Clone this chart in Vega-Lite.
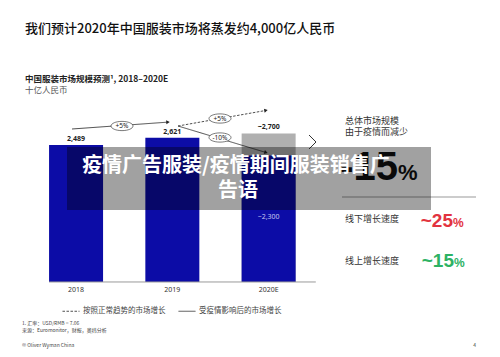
{
  "$schema": "https://vega.github.io/schema/vega-lite/v6.json",
  "width": 500,
  "height": 357,
  "autosize": "none",
  "padding": 0,
  "background": "white",
  "config": {
    "view": {"stroke": null},
    "axis": {"disable": true},
    "text": {"font": "Noto Sans CJK SC"}
  },
  "datasets": {
    "bars": [
      {"year": 2018, "yearLabel": "2018", "type": "实际", "value": 2489, "label": "2,489"},
      {"year": 2019, "yearLabel": "2019", "type": "实际", "value": 2621, "label": "2,621"},
      {"year": 2020, "yearLabel": "2020E", "type": "正常趋势", "value": 2700, "label": "~2,700"},
      {"year": 2020, "yearLabel": "2020E", "type": "实际", "value": 2300, "label": "~2,300"}
    ],
    "arrows": [
      {"seg": "a", "scenario": "受疫情影响后的市场增长", "x": 72, "y": 129},
      {"seg": "a", "scenario": "受疫情影响后的市场增长", "x": 167, "y": 122.2},
      {"seg": "b", "scenario": "按照正常趋势的市场增长", "x": 178, "y": 126},
      {"seg": "b", "scenario": "按照正常趋势的市场增长", "x": 265, "y": 110.6},
      {"seg": "c", "scenario": "受疫情影响后的市场增长", "x": 178, "y": 126},
      {"seg": "c", "scenario": "受疫情影响后的市场增长", "x": 265, "y": 152.2}
    ],
    "ellipses": [
      {"x": 122, "y": 126, "t": "+5%"},
      {"x": 220, "y": 118.5, "t": "+5%"},
      {"x": 220, "y": 137.5, "t": "-10%"}
    ],
    "panelLabels": [
      {"x": 345, "y": 121, "t": "总体市场规模"},
      {"x": 345, "y": 132, "t": "由于疫情而减少"},
      {"x": 345, "y": 219, "t": "线下增长速度"},
      {"x": 345, "y": 261, "t": "线上增长速度"}
    ],
    "kpi": [
      {"kind": "线下", "x": 453, "y": 227, "num": "~25"},
      {"kind": "线上", "x": 454, "y": 267, "num": "~15"}
    ],
    "footnotes": [
      {"x": 22, "y": 323, "t": "1. 汇率：USD/RMB = 7.06"},
      {"x": 22, "y": 330, "t": "来源：Euromonitor，财报，奥纬分析"},
      {"x": 22, "y": 345, "t": "© Oliver Wyman China"}
    ],
    "banner": [
      {"x": 236, "y": 166, "t": "疫情广告服装/疫情期间服装销售广"},
      {"x": 238, "y": 191, "t": "告语"}
    ]
  },
  "resolve": {"scale": {"x": "independent", "y": "independent", "color": "independent"}},
  "layer": [
    {
      "layer": [
        {
          "data": {"name": "bars"},
          "mark": {"type": "bar", "size": 54},
          "encoding": {
            "x": {"field": "year", "type": "quantitative", "scale": {"domain": [2017.262, 2022.351], "nice": false, "zero": false}},
            "y": {"field": "value", "type": "quantitative", "stack": null, "scale": {"domain": [-1364, 5127], "nice": false, "zero": false}},
            "y2": {"datum": 0},
            "color": {"field": "type", "type": "nominal", "scale": {"domain": ["正常趋势", "实际"], "range": ["#b0b0b0", "#0c0ca6"]}, "legend": null}
          }
        },
        {
          "data": {"name": "bars"},
          "transform": [{"filter": "datum.type == '实际'"}],
          "mark": {"type": "text", "fontSize": 7, "color": "#333", "baseline": "middle", "font": "Noto Sans"},
          "encoding": {
            "x": {"field": "year", "type": "quantitative"},
            "y": {"datum": -150},
            "text": {"field": "yearLabel"}
          }
        },
        {
          "data": {"name": "bars"},
          "transform": [{"filter": "datum.value > 2400"}],
          "mark": {"type": "text", "fontSize": 7, "fontWeight": "bold", "color": "#222", "baseline": "middle", "dy": -6, "font": "Noto Sans"},
          "encoding": {
            "x": {"field": "year", "type": "quantitative"},
            "y": {"field": "value", "type": "quantitative"},
            "text": {"field": "label"}
          }
        },
        {
          "data": {"name": "bars"},
          "transform": [{"filter": "datum.value < 2400"}],
          "mark": {"type": "text", "fontSize": 7, "color": "#c8c8f0", "baseline": "middle", "font": "Noto Sans"},
          "encoding": {
            "x": {"field": "year", "type": "quantitative"},
            "y": {"datum": 1180},
            "text": {"field": "label"}
          }
        },
        {
          "data": {"values": [{}]},
          "mark": {"type": "rule", "color": "#999", "strokeWidth": 1},
          "encoding": {
            "x": {"datum": 2017.72},
            "x2": {"datum": 2020.49},
            "y": {"datum": 0}
          }
        }
      ]
    },
    {
      "layer": [
        {
          "data": {"values": [{"x": 25, "y": 29, "t": "我们预计2020年中国服装市场将蒸发约4,000亿人民币"}]},
          "mark": {"type": "text", "align": "left", "baseline": "middle", "fontSize": 13, "fontWeight": 500, "color": "#111"},
          "encoding": {
            "x": {"field": "x", "type": "quantitative", "scale": {"domain": [0, 500], "nice": false, "zero": false}},
            "y": {"field": "y", "type": "quantitative", "scale": {"domain": [0, 357], "reverse": true, "nice": false, "zero": false}},
            "text": {"field": "t"}
          }
        },
        {
          "data": {"values": [{"x": 25, "y": 79, "t": "中国服装市场规模预测¹, 2018–2020E"}]},
          "mark": {"type": "text", "align": "left", "baseline": "middle", "fontSize": 8.5, "fontWeight": "bold", "color": "#222"},
          "encoding": {
            "x": {"field": "x", "type": "quantitative"},
            "y": {"field": "y", "type": "quantitative"},
            "text": {"field": "t"}
          }
        },
        {
          "data": {"values": [{"x": 25, "y": 90, "t": "十亿人民币"}]},
          "mark": {"type": "text", "align": "left", "baseline": "middle", "fontSize": 8.5, "color": "#555"},
          "encoding": {
            "x": {"field": "x", "type": "quantitative"},
            "y": {"field": "y", "type": "quantitative"},
            "text": {"field": "t"}
          }
        },
        {
          "data": {"name": "arrows"},
          "mark": {"type": "line", "color": "#222", "strokeWidth": 0.8},
          "encoding": {
            "x": {"field": "x", "type": "quantitative"},
            "y": {"field": "y", "type": "quantitative"},
            "detail": {"field": "seg"},
            "strokeDash": {
              "field": "scenario", "type": "nominal",
              "scale": {"domain": ["按照正常趋势的市场增长", "受疫情影响后的市场增长"], "range": [[2.5, 1.5], [1, 0]]},
              "legend": {
                "orient": "none", "legendX": 62, "legendY": 302, "direction": "horizontal", "title": null,
                "symbolType": "stroke", "symbolSize": 290, "symbolStrokeWidth": 0.8, "symbolStrokeColor": "#222",
                "labelFontSize": 7.5, "labelColor": "#444", "labelFont": "Noto Sans CJK SC",
                "columnPadding": 10, "labelOffset": 3
              }
            }
          }
        },
        {
          "data": {"values": [{"x": 168, "y": 122.1}]},
          "mark": {"type": "point", "shape": "triangle-right", "size": 16, "filled": true, "color": "#222", "opacity": 1, "angle": -4},
          "encoding": {"x": {"field": "x", "type": "quantitative"}, "y": {"field": "y", "type": "quantitative"}}
        },
        {
          "data": {"values": [{"x": 266, "y": 110.4}]},
          "mark": {"type": "point", "shape": "triangle-right", "size": 16, "filled": true, "color": "#222", "opacity": 1, "angle": -10},
          "encoding": {"x": {"field": "x", "type": "quantitative"}, "y": {"field": "y", "type": "quantitative"}}
        },
        {
          "data": {"values": [{"x": 266, "y": 152.5}]},
          "mark": {"type": "point", "shape": "triangle-right", "size": 16, "filled": true, "color": "#222", "opacity": 1, "angle": 17},
          "encoding": {"x": {"field": "x", "type": "quantitative"}, "y": {"field": "y", "type": "quantitative"}}
        },
        {
          "data": {"name": "ellipses"},
          "mark": {"type": "point", "shape": "M-1,0A1,0.42,0,1,1,1,0A1,0.42,0,1,1,-1,0Z", "size": 484, "filled": true, "fill": "white", "stroke": "#222", "strokeWidth": 0.6, "opacity": 1, "fillOpacity": 1},
          "encoding": {"x": {"field": "x", "type": "quantitative"}, "y": {"field": "y", "type": "quantitative"}}
        },
        {
          "data": {"name": "ellipses"},
          "mark": {"type": "text", "fontSize": 6.5, "color": "#222", "baseline": "middle", "font": "Noto Sans"},
          "encoding": {"x": {"field": "x", "type": "quantitative"}, "y": {"field": "y", "type": "quantitative"}, "text": {"field": "t"}}
        },
        {
          "data": {"values": [{"k": 1, "x": 309, "y": 135}, {"k": 2, "x": 316, "y": 142}, {"k": 3, "x": 309, "y": 149}]},
          "mark": {"type": "line", "color": "#333", "strokeWidth": 1},
          "encoding": {"x": {"field": "x", "type": "quantitative"}, "y": {"field": "y", "type": "quantitative"}, "order": {"field": "k"}}
        },
        {
          "data": {"name": "panelLabels"},
          "mark": {"type": "text", "align": "left", "baseline": "middle", "fontSize": 9, "color": "#333"},
          "encoding": {"x": {"field": "x", "type": "quantitative"}, "y": {"field": "y", "type": "quantitative"}, "text": {"field": "t"}}
        },
        {
          "data": {"values": [{"x": 398, "y": 180, "t": "-15"}]},
          "mark": {"type": "text", "align": "right", "baseline": "alphabetic", "fontSize": 40, "fontWeight": "bold", "color": "#111", "font": "Liberation Sans"},
          "encoding": {"x": {"field": "x", "type": "quantitative"}, "y": {"field": "y", "type": "quantitative"}, "text": {"field": "t"}}
        },
        {
          "data": {"values": [{"x": 398, "y": 180, "t": "%"}]},
          "mark": {"type": "text", "align": "left", "baseline": "alphabetic", "fontSize": 22, "fontWeight": "bold", "color": "#111", "font": "Liberation Sans"},
          "encoding": {"x": {"field": "x", "type": "quantitative"}, "y": {"field": "y", "type": "quantitative"}, "text": {"field": "t"}}
        },
        {
          "data": {"values": [{"x": 342, "x2": 476, "y": 197}]},
          "mark": {"type": "rule", "color": "#999", "strokeWidth": 1},
          "encoding": {"x": {"field": "x", "type": "quantitative"}, "x2": {"field": "x2"}, "y": {"field": "y", "type": "quantitative"}}
        },
        {
          "data": {"name": "kpi"},
          "mark": {"type": "text", "align": "right", "baseline": "alphabetic", "fontSize": 19, "fontWeight": "bold", "font": "Liberation Sans"},
          "encoding": {
            "x": {"field": "x", "type": "quantitative"}, "y": {"field": "y", "type": "quantitative"}, "text": {"field": "num"},
            "color": {"field": "kind", "type": "nominal", "scale": {"domain": ["线下", "线上"], "range": ["#e23340", "#2db264"]}, "legend": null}
          }
        },
        {
          "data": {"name": "kpi"},
          "mark": {"type": "text", "align": "left", "baseline": "alphabetic", "fontSize": 12, "fontWeight": "bold", "text": "%", "font": "Liberation Sans"},
          "encoding": {
            "x": {"field": "x", "type": "quantitative"}, "y": {"field": "y", "type": "quantitative"},
            "color": {"field": "kind", "type": "nominal", "legend": null}
          }
        },
        {
          "data": {"name": "footnotes"},
          "mark": {"type": "text", "align": "left", "baseline": "middle", "fontSize": 5, "color": "#444"},
          "encoding": {"x": {"field": "x", "type": "quantitative"}, "y": {"field": "y", "type": "quantitative"}, "text": {"field": "t"}}
        },
        {
          "data": {"values": [{"x": 476, "y": 345, "t": "4"}]},
          "mark": {"type": "text", "align": "right", "baseline": "middle", "fontSize": 5, "color": "#444"},
          "encoding": {"x": {"field": "x", "type": "quantitative"}, "y": {"field": "y", "type": "quantitative"}, "text": {"field": "t"}}
        },
        {
          "data": {"values": [{"x": 67, "x2": 431, "y": 147, "y2": 210}]},
          "mark": {"type": "rect", "color": "#000", "opacity": 0.37},
          "encoding": {"x": {"field": "x", "type": "quantitative"}, "x2": {"field": "x2"}, "y": {"field": "y", "type": "quantitative"}, "y2": {"field": "y2"}}
        },
        {
          "data": {"name": "banner"},
          "mark": {"type": "text", "align": "center", "baseline": "middle", "fontSize": 20, "fontWeight": "bold", "color": "white"},
          "encoding": {"x": {"field": "x", "type": "quantitative"}, "y": {"field": "y", "type": "quantitative"}, "text": {"field": "t"}}
        }
      ]
    }
  ]
}
